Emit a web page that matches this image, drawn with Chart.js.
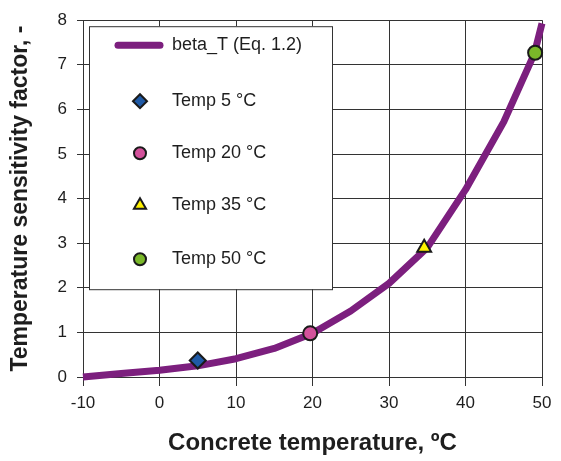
<!DOCTYPE html>
<html>
<head>
<meta charset="utf-8">
<script src="https://cdn.jsdelivr.net/npm/chart.js@4.4.1/dist/chart.umd.min.js"></script>
<style>
  html, body { margin: 0; padding: 0; background: #fff; }
  #wrap { width: 561px; height: 461px; }
</style>
</head>
<body>
<div id="wrap"><canvas id="chart" width="561" height="461"></canvas></div>
<script>
// curve beta_T (Eq. 1.2), every 5 degrees plus a denser tail where it turns up
const curveTemps = [-10, -5, 0, 5, 10, 15, 20, 25, 30, 35, 40, 45, 49, 50, 50.5];
const curveBeta = [0.0, 0.08, 0.15, 0.25, 0.41, 0.64, 0.98, 1.48, 2.1, 2.9, 4.2, 5.72, 7.25, 7.93, 8.28];

// measured points
const pointLabels = ['Temp 5 °C', 'Temp 20 °C', 'Temp 35 °C', 'Temp 50 °C'];
const pointTemps = [5, 19.7, 34.6, 49.1];
const pointBeta = [0.37, 0.98, 2.9, 7.27];
const pointStyles = ['rectRot', 'circle', 'triangle', 'circle'];
const pointColors = ['#1f5aa6', '#d3519b', '#fff200', '#7ab829'];

const curveLabel = 'beta_T (Eq. 1.2)';
const xTicks = [-10, 0, 10, 20, 30, 40, 50];
const yTicks = [0, 1, 2, 3, 4, 5, 6, 7, 8];

const FONT = "'Liberation Sans', Arial, sans-serif";
const GRID = '#333333';
const TEXT = '#1e1e1e';

const datasets = [{
  label: curveLabel,
  type: 'line',
  data: curveTemps.map((t, i) => ({ x: t, y: curveBeta[i] })),
  borderColor: '#7c1f7e',
  borderWidth: 7,
  borderCapStyle: 'butt',
  borderJoinStyle: 'round',
  pointRadius: 0,
  tension: 0,
  fill: false,
  clip: { left: 5, top: 14, right: 5, bottom: 5 },
  order: 2
}];

pointLabels.forEach((lbl, i) => {
  datasets.push({
    label: lbl,
    type: 'scatter',
    data: [{ x: pointTemps[i], y: pointBeta[i] }],
    pointStyle: pointStyles[i],
    pointRadius: pointStyles[i] === 'circle' ? 7 : 8,
    pointBackgroundColor: pointColors[i],
    pointBorderColor: '#1a1a1a',
    pointBorderWidth: 2,
    clip: false,
    order: 1
  });
});

// legend box sitting inside the plot area, top-left
const insideLegend = {
  id: 'insideLegend',
  afterDraw(chart) {
    const ctx = chart.ctx;
    const area = chart.chartArea;
    const bx = area.left + 6, by = area.top + 6, bw = 243, bh = 263;
    ctx.save();
    ctx.fillStyle = '#ffffff';
    ctx.fillRect(bx, by, bw, bh);
    ctx.strokeStyle = '#333333';
    ctx.lineWidth = 1;
    ctx.strokeRect(bx + 0.5, by + 0.5, bw, bh);

    ctx.font = '18px ' + FONT;
    ctx.textBaseline = 'middle';
    const textX = bx + 83;
    const rowY = [19, 75, 127, 179, 233];

    // curve sample
    ctx.strokeStyle = '#7c1f7e';
    ctx.lineWidth = 7;
    ctx.lineCap = 'round';
    ctx.beginPath();
    ctx.moveTo(bx + 29, by + rowY[0]);
    ctx.lineTo(bx + 71, by + rowY[0]);
    ctx.stroke();
    ctx.fillStyle = TEXT;
    ctx.fillText(curveLabel, textX, by + rowY[0]);

    pointLabels.forEach((lbl, i) => {
      const ds = chart.data.datasets[i + 1];
      const cy = by + rowY[i + 1];
      ctx.fillStyle = ds.pointBackgroundColor;
      ctx.strokeStyle = ds.pointBorderColor;
      ctx.lineWidth = 2;
      Chart.helpers.drawPoint(ctx, {
        pointStyle: ds.pointStyle,
        radius: ds.pointStyle === 'circle' ? 6 : 7,
        rotation: 0,
        borderWidth: 2
      }, bx + 51, cy);
      ctx.fillStyle = TEXT;
      ctx.fillText(lbl, textX, cy);
    });
    ctx.restore();
  }
};

new Chart(document.getElementById('chart'), {
  type: 'scatter',
  data: { datasets },
  options: {
    responsive: false,
    animation: false,
    layout: { padding: { top: 17, right: 19, left: 0, bottom: 0 } },
    plugins: {
      legend: { display: false },
      tooltip: { enabled: false }
    },
    scales: {
      x: {
        type: 'linear',
        min: -10,
        max: 50,
        afterBuildTicks: (scale) => { scale.ticks = xTicks.map(v => ({ value: v })); },
        afterFit: (scale) => { scale.height = 84; },
        ticks: { color: TEXT, font: { family: FONT, size: 17 }, padding: 7 },
        grid: { color: GRID, lineWidth: 1, tickLength: 9, tickColor: GRID },
        border: { color: GRID, width: 1 },
        title: {
          display: true,
          text: 'Concrete temperature, ºC',
          color: TEXT,
          font: { family: FONT, size: 24, weight: 'bold' },
          padding: { top: 0, bottom: 3 }
        }
      },
      y: {
        type: 'linear',
        min: 0,
        max: 8,
        afterBuildTicks: (scale) => { scale.ticks = yTicks.map(v => ({ value: v })); },
        afterFit: (scale) => { scale.width = 83; },
        ticks: { color: TEXT, font: { family: FONT, size: 17 }, padding: 10 },
        grid: { color: GRID, lineWidth: 1, tickLength: 6, tickColor: GRID },
        border: { color: GRID, width: 1 },
        title: {
          display: true,
          text: 'Temperature sensitivity factor, -',
          color: TEXT,
          font: { family: FONT, size: 23, weight: 'bold' },
          padding: { top: 7, bottom: 0 }
        }
      }
    }
  },
  plugins: [insideLegend]
});
</script>
</body>
</html>
